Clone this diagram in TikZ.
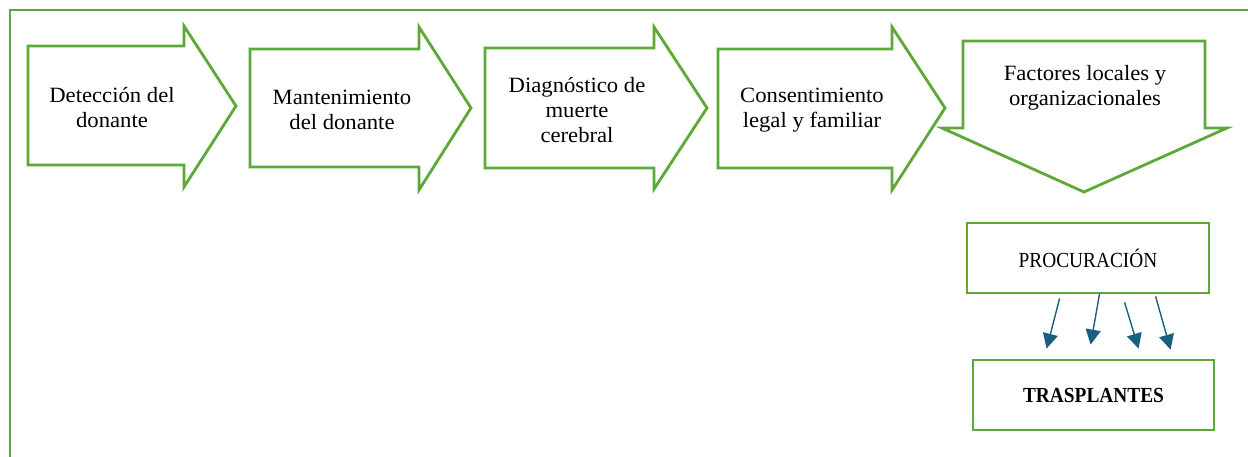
\documentclass[tikz,border=0pt]{standalone}
\usepackage{fontspec}
\setmainfont[FakeStretch=1.04]{Liberation Serif}
\newfontfamily\capsfont[FakeStretch=0.9]{Liberation Serif}
\usetikzlibrary{arrows.meta,calc}
\definecolor{frgreen}{RGB}{92,169,55}
\definecolor{arblue}{RGB}{26,94,128}
\tikzset{
  shapeline/.style={draw=frgreen,line width=2.8pt,fill=white,line join=miter},
  lbl/.style={align=center,font=\fontsize{21.8}{25}\selectfont,inner sep=0pt},
  boxnode/.style={draw=frgreen,line width=2.8pt,minimum width=242pt,minimum height=70pt,inner sep=0pt,font=\capsfont\fontsize{21.5}{25}\selectfont},
  conn/.style={draw=arblue,line width=1.4pt,-{Triangle[length=15pt,width=15pt]}}
}
\begin{document}
\begin{tikzpicture}[x=1pt,y=-1pt]
\useasboundingbox (0,0) rectangle (1248,456);
% outer frame
\draw[frgreen,line width=2.6pt] (10,470) -- (10,10) -- (1260,10);
% arrow shapes
\draw[shapeline] (28,46) -- (184,46) -- (184,26) -- (236,106) -- (184,187) -- (184,165) -- (28,165) -- cycle;
\draw[shapeline] (250,49) -- (419,49) -- (419,27) -- (471,108) -- (419,190) -- (419,167) -- (250,167) -- cycle;
\draw[shapeline] (485,48) -- (654,48) -- (654,27) -- (707,108) -- (654,189) -- (654,168) -- (485,168) -- cycle;
\draw[shapeline] (718,49) -- (892,49) -- (892,27) -- (945,108) -- (892,190) -- (892,168) -- (718,168) -- cycle;
\draw[shapeline] (963,41) -- (1205,41) -- (1205,128) -- (1227,128) -- (1084,192) -- (942,128) -- (963,128) -- cycle;
% labels
\node[lbl] (det) at (112,108) {Detección del\\donante};
\node[lbl] (man) at (342,110) {Mantenimiento\\del donante};
\node[lbl] (dia) at (577,110) {Diagnóstico de\\muerte\\cerebral};
\node[lbl] (con) at (812,110) {Consentimiento\\legal y familiar};
\node[lbl] (fac) at (1085,88) {Factores locales y\\organizacionales};
% boxes
\node[boxnode] (proc) at (1088,258) {PROCURACIÓN};
\node[boxnode,minimum width=241pt] (tras) at (1093.5,395) {\bfseries TRASPLANTES};
% connector end points
\coordinate (s1) at ($(proc.south west)+(94,4)$);
\coordinate (s2) at ($(proc.south west)+(134,-1)$);
\coordinate (s3) at ($(proc.south west)+(159,8)$);
\coordinate (s4) at ($(proc.south west)+(190,2)$);
\coordinate (e1) at ($(tras.north west)+(75,-10)$);
\coordinate (e2) at ($(tras.north west)+(119,-14)$);
\coordinate (e3) at ($(tras.north west)+(167,-10)$);
\coordinate (e4) at ($(tras.north west)+(199,-9)$);
\draw[conn] (s1) -- (e1);
\draw[conn] (s2) -- (e2);
\draw[conn] (s3) -- (e3);
\draw[conn] (s4) -- (e4);
\end{tikzpicture}
\end{document}
